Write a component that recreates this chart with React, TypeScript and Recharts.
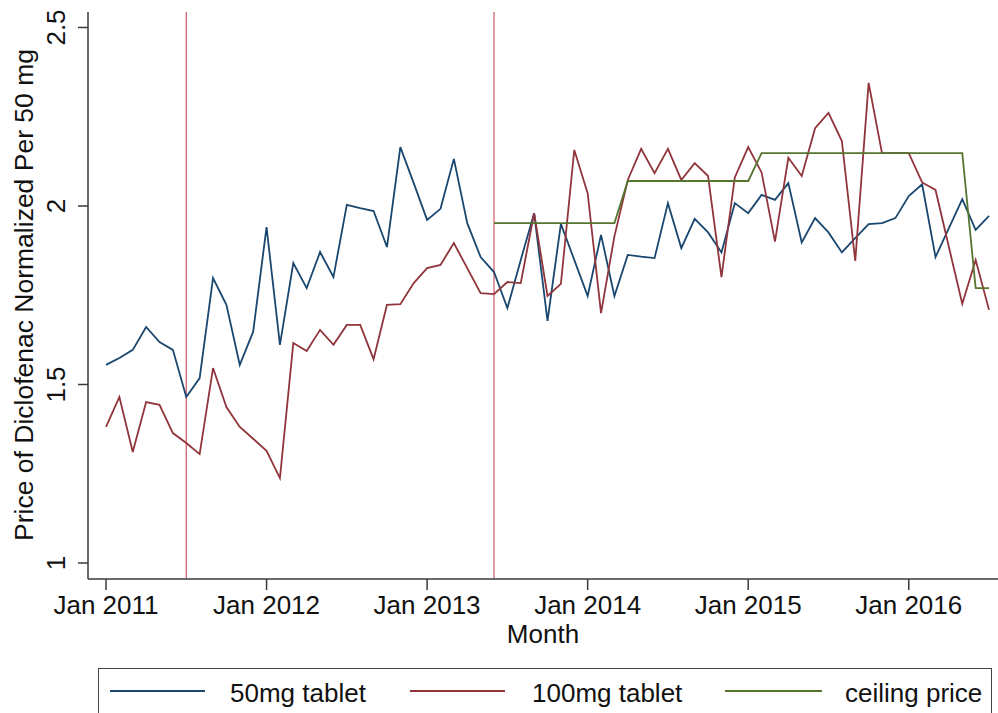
import { Line, LineChart, ReferenceLine, XAxis, YAxis } from "recharts"

// monthly prices, Jan 2011 (index 0) .. Jul 2016 (index 66)
const tab50 = [
  1.555, 1.574, 1.597, 1.661, 1.619, 1.597, 1.465, 1.518, 1.798, 1.723, 1.555, 1.648,
  1.941, 1.611, 1.84, 1.77, 1.871, 1.801, 2.003, 1.994, 1.986, 1.885, 2.165, 2.064,
  1.961, 1.992, 2.132, 1.952, 1.857, 1.815, 1.714, 1.849, 1.98, 1.678, 1.95, 1.849,
  1.748, 1.919, 1.748, 1.863, 1.858, 1.854, 2.008, 1.882, 1.964, 1.926, 1.87, 2.008,
  1.98, 2.031, 2.017, 2.064, 1.898, 1.966, 1.926, 1.87, 1.91, 1.949, 1.952, 1.966,
  2.028, 2.061, 1.857, 1.938, 2.019, 1.933, 1.972,
]

const tab100 = [
  1.381, 1.465, 1.311, 1.451, 1.443, 1.364, 1.336, 1.305, 1.546, 1.437, 1.381, 1.348,
  1.314, 1.238, 1.616, 1.594, 1.653, 1.611, 1.667, 1.667, 1.571, 1.723, 1.725, 1.784,
  1.826, 1.835, 1.896, 1.826, 1.756, 1.753, 1.787, 1.784, 1.98, 1.748, 1.782, 2.157,
  2.036, 1.7, 1.915, 2.073, 2.16, 2.092, 2.16, 2.073, 2.12, 2.084, 1.801, 2.08,
  2.165, 2.094, 1.9, 2.135, 2.084, 2.218, 2.261, 2.182, 1.846, 2.345, 2.148, 2.148,
  2.148, 2.066, 2.045, 1.885, 1.726, 1.849, 1.709,
]

// ceiling price only exists from Jun 2013 (index 29)
const ceilingStart = 29
const ceiling = [
  1.952, 1.952, 1.952, 1.952, 1.952, 1.952, 1.952, 1.952, 1.952, 1.952,
  2.07, 2.07, 2.07, 2.07, 2.07, 2.07, 2.07, 2.07, 2.07, 2.07,
  2.148, 2.148, 2.148, 2.148, 2.148, 2.148, 2.148, 2.148, 2.148, 2.148,
  2.148, 2.148, 2.148, 2.148, 2.148, 2.148,
  1.77, 1.77,
]

const policyMonths = [6, 29]
const xTicks = [0, 12, 24, 36, 48, 60]
const xTickLabels = ["Jan 2011", "Jan 2012", "Jan 2013", "Jan 2014", "Jan 2015", "Jan 2016"]
const yTicks = [1, 1.5, 2, 2.5]

const data = tab50.map((v, i) => ({
  m: i,
  tab50: v,
  tab100: tab100[i],
  ceiling: i >= ceilingStart ? ceiling[i - ceilingStart] : null,
}))

const font = "'Liberation Sans', Arial, sans-serif"
const colors = {
  tab50: "#1a476f",
  tab100: "#90353b",
  ceiling: "#55752f",
  policy: "#d0646e",
  axis: "#3a3a3a",
}

const YTick = (props: any) => {
  const { y, payload } = props
  return (
    <text
      x={65}
      y={y}
      transform={`rotate(-90 65 ${y})`}
      textAnchor="middle"
      fontSize={26}
      fontFamily={font}
      fill="#111"
    >
      {String(payload.value)}
    </text>
  )
}

const legendItems = [
  { label: "50mg tablet", color: colors.tab50, x1: 12, x2: 107, tx: 132 },
  { label: "100mg tablet", color: colors.tab100, x1: 312, x2: 407, tx: 434 },
  { label: "ceiling price", color: colors.ceiling, x1: 627, x2: 724, tx: 747 },
]

export default function App() {
  return (
    <div
      style={{
        position: "absolute",
        left: 0,
        top: 0,
        width: 998,
        height: 713,
        overflow: "hidden",
        background: "#fff",
        fontFamily: font,
      }}
    >
      <LineChart width={998} height={713} data={data} margin={{ top: 12, right: 0, bottom: 0, left: 0 }}>
        <XAxis
          dataKey="m"
          type="number"
          domain={[-1.345, 66.67]}
          allowDataOverflow
          ticks={xTicks}
          tickFormatter={(m: number) => xTickLabels[xTicks.indexOf(m)]}
          height={134}
          tickSize={11}
          tickMargin={6}
          stroke={colors.axis}
          strokeWidth={1.5}
          tick={{ fontSize: 26, fill: "#111", fontFamily: font }}
          label={{ value: "Month", position: "insideBottom", offset: 70, fontSize: 26, fill: "#111", fontFamily: font }}
        />
        <YAxis
          type="number"
          domain={[0.9552, 2.5434]}
          allowDataOverflow
          ticks={yTicks}
          width={88}
          tickSize={10}
          stroke={colors.axis}
          strokeWidth={1.5}
          tick={<YTick />}
          label={{
            content: () => (
              <text
                x={33}
                y={295}
                transform="rotate(-90 33 295)"
                textAnchor="middle"
                fontSize={26.5}
                fontFamily={font}
                fill="#111"
              >
                Price of Diclofenac Normalized Per 50 mg
              </text>
            ),
          }}
        />
        {policyMonths.map((m) => (
          <ReferenceLine key={m} x={m} stroke={colors.policy} strokeWidth={1.3} />
        ))}
        <Line type="linear" dataKey="tab50" stroke={colors.tab50} strokeWidth={1.8} dot={false} isAnimationActive={false} />
        <Line type="linear" dataKey="tab100" stroke={colors.tab100} strokeWidth={1.8} dot={false} isAnimationActive={false} />
        <Line type="linear" dataKey="ceiling" stroke={colors.ceiling} strokeWidth={1.8} dot={false} isAnimationActive={false} />
      </LineChart>
      <div
        style={{
          position: "absolute",
          left: 98,
          top: 668,
          width: 894,
          height: 70,
          border: "1.5px solid #444",
          boxSizing: "border-box",
        }}
      >
        <svg width={894} height={70} style={{ position: "absolute", left: -1.5, top: -1.5 }}>
          {legendItems.map((it) => (
            <g key={it.label}>
              <line x1={it.x1} x2={it.x2} y1={23} y2={23} stroke={it.color} strokeWidth={1.8} />
              <text x={it.tx} y={34} fontSize={26} fontFamily={font} fill="#111">
                {it.label}
              </text>
            </g>
          ))}
        </svg>
      </div>
    </div>
  )
}
